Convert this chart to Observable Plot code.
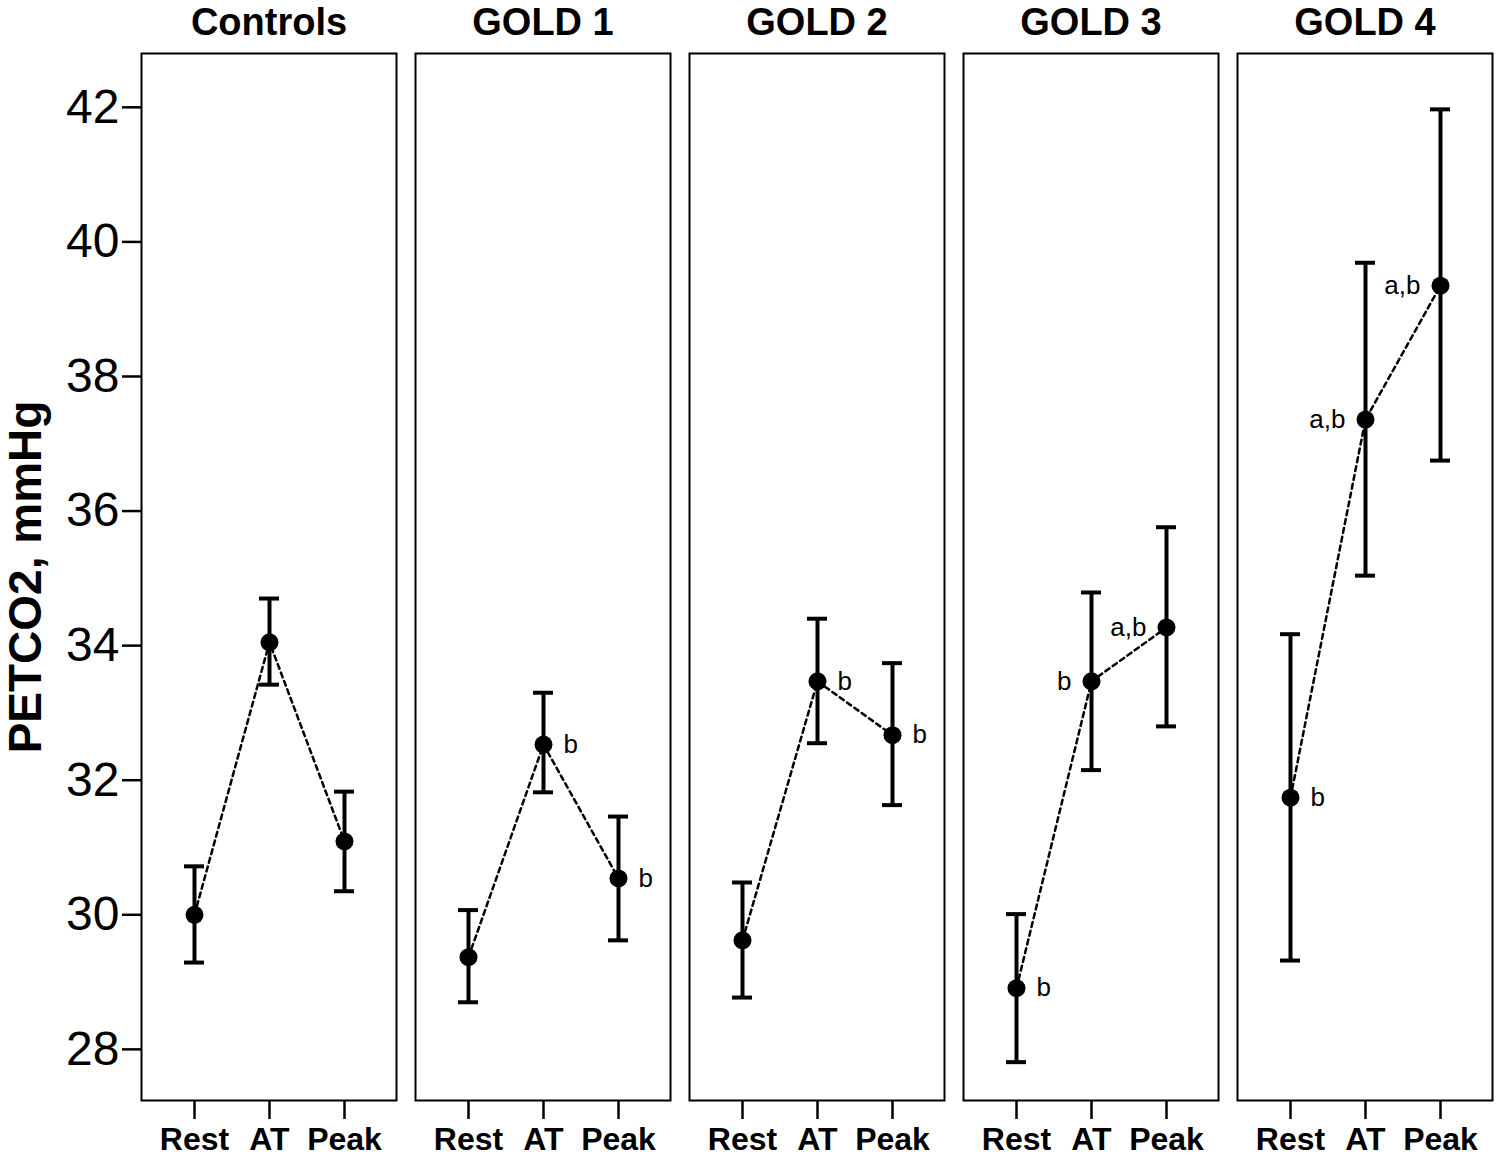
<!DOCTYPE html>
<html><head><meta charset="utf-8">
<script src="https://cdn.jsdelivr.net/npm/d3@7"></script>
<script src="https://cdn.jsdelivr.net/npm/@observablehq/plot@0.6"></script>
<style>
html,body{margin:0;padding:0;background:#fff;}
#chart svg{font-family:Arial,"Liberation Sans",Helvetica,sans-serif;}
</style></head><body><div id="chart"></div>
<script>
const groups = ["Controls", "GOLD 1", "GOLD 2", "GOLD 3", "GOLD 4"];
const stages = ["Rest", "AT", "Peak"];
const yTicks = [28, 30, 32, 34, 36, 38, 40, 42];
const yTitle = "PETCO2, mmHg";

// per group: [Rest, AT, Peak]
const meanValues = [
  [30.00, 34.05, 31.09],
  [29.37, 32.53, 30.54],
  [29.62, 33.47, 32.67],
  [28.91, 33.47, 34.27],
  [31.74, 37.36, 39.35]
];
const lowValues = [
  [29.29, 33.42, 30.35],
  [28.70, 31.82, 29.62],
  [28.77, 32.55, 31.63],
  [27.81, 32.15, 32.80],
  [29.32, 35.04, 36.75]
];
const highValues = [
  [30.72, 34.70, 31.83],
  [30.07, 33.30, 31.46],
  [30.48, 34.40, 33.74],
  [30.01, 34.79, 35.76],
  [34.17, 39.69, 41.97]
];
const annotations = [
  ["", "", ""],
  ["", "b", "b"],
  ["", "b", "b"],
  ["b", "b", "a,b"],
  ["b", "a,b", "a,b"]
];
const annotationSides = [
  ["right", "right", "right"],
  ["right", "right", "right"],
  ["right", "right", "right"],
  ["right", "left", "left"],
  ["right", "left", "left"]
];

const rows = [];
groups.forEach((g, gi) => stages.forEach((s, si) => rows.push({
  group: g, stage: s,
  mean: meanValues[gi][si], low: lowValues[gi][si], high: highValues[gi][si],
  note: annotations[gi][si], side: annotationSides[gi][si]
})));
const rightNotes = rows.filter(d => d.note && d.side === "right");
const leftNotes = rows.filter(d => d.note && d.side === "left");

const font = "Arial, 'Liberation Sans', Helvetica, sans-serif";

const chart = Plot.plot({
  width: 1500,
  height: 1159,
  marginLeft: 141,
  marginRight: 8,
  marginTop: 53,
  marginBottom: 59,
  style: {fontFamily: font, color: "black", background: "white"},
  fx: {domain: groups, paddingInner: 0.0705, paddingOuter: 0, axis: null},
  x: {type: "band", domain: stages, paddingInner: 0.5, paddingOuter: 0.432, axis: null},
  y: {domain: [27.24, 42.8], axis: null},
  marks: [
    Plot.frame({stroke: "black", strokeWidth: 2}),
    Plot.axisFx({anchor: "top", tickSize: 0, tickPadding: 19, fontSize: 38, fontWeight: "bold", label: null}),
    Plot.axisX({anchor: "bottom", tickSize: 19, tickPadding: 8, strokeWidth: 2.5, fontSize: 32, fontWeight: "bold", label: null}),
    Plot.axisY({anchor: "left", ticks: yTicks, tickFormat: d => String(d), tickSize: 19, tickPadding: 3, strokeWidth: 2.5, fontSize: 48, label: null}),
    Plot.axisY({anchor: "left", ticks: [], tickSize: 0, label: yTitle, labelAnchor: "center", labelOffset: 133, labelArrow: "none", fontSize: 46, fontWeight: "bold"}),
    Plot.line(rows, {fx: "group", x: "stage", y: "mean", stroke: "black", strokeWidth: 2.5, strokeDasharray: "5,4"}),
    Plot.ruleX(rows, {fx: "group", x: "stage", y1: "low", y2: "high", stroke: "black", strokeWidth: 4}),
    Plot.tickY(rows, {fx: "group", x: "stage", y: "low", stroke: "black", strokeWidth: 4, insetLeft: 9, insetRight: 9}),
    Plot.tickY(rows, {fx: "group", x: "stage", y: "high", stroke: "black", strokeWidth: 4, insetLeft: 9, insetRight: 9}),
    Plot.dot(rows, {fx: "group", x: "stage", y: "mean", r: 9, fill: "black"}),
    Plot.text(rightNotes, {fx: "group", x: "stage", y: "mean", text: "note", dx: 20, textAnchor: "start", fontSize: 26, fill: "black"}),
    Plot.text(leftNotes, {fx: "group", x: "stage", y: "mean", text: "note", dx: -20, textAnchor: "end", fontSize: 26, fill: "black"})
  ]
});
document.getElementById("chart").appendChild(chart);
</script>
</body></html>
